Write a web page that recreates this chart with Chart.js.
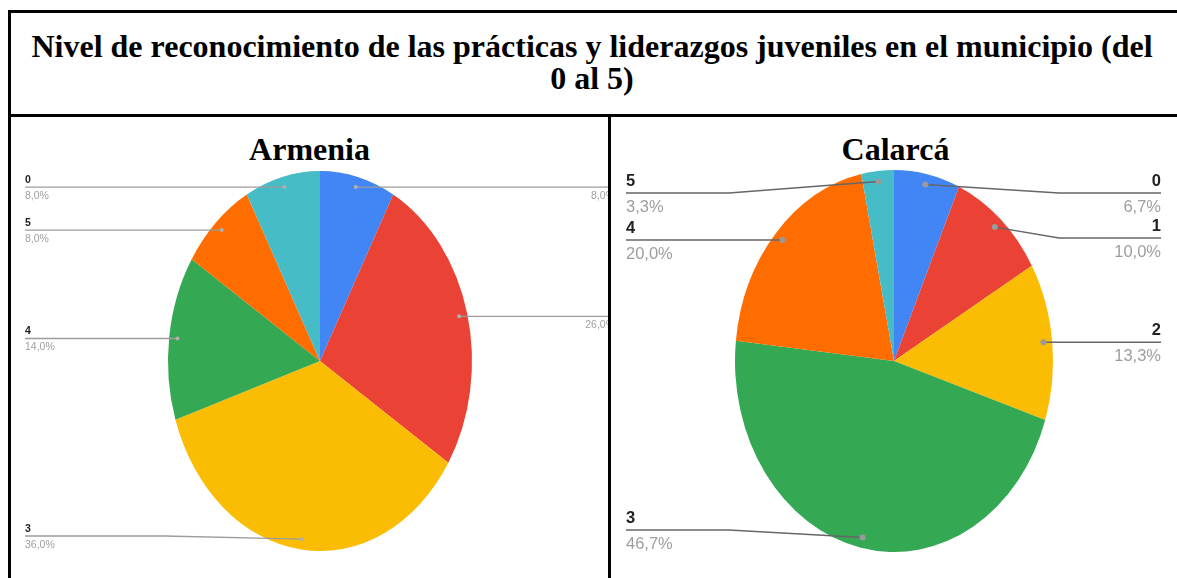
<!DOCTYPE html>
<html><head><meta charset="utf-8">
<script src="https://cdn.jsdelivr.net/npm/chart.js@4.4.1/dist/chart.umd.min.js"></script>
<style>
html,body{margin:0;padding:0;background:#fff;width:1177px;height:578px;overflow:hidden;position:relative;}
.rule{position:absolute;background:#000;}
.ttl{position:absolute;font-family:"Liberation Serif","Times New Roman",serif;font-weight:bold;font-size:32px;line-height:32px;text-align:center;color:#000;white-space:nowrap;}
.cell{position:absolute;overflow:hidden;}
.cell canvas{position:absolute;}
</style>
</head><body>
<div class="rule" style="left:8px;top:10px;width:1169px;height:3px"></div>
<div class="rule" style="left:8px;top:10px;width:3px;height:568px"></div>
<div class="rule" style="left:8px;top:114px;width:1169px;height:3px"></div>
<div class="rule" style="left:608px;top:114px;width:3px;height:464px"></div>
<div class="ttl" style="left:11px;width:1162px;top:30px">Nivel de reconocimiento de las prácticas y liderazgos juveniles en el municipio (del<br>0 al 5)</div>
<div class="ttl" style="left:11px;width:597px;top:133px">Armenia</div>
<div class="ttl" style="left:611px;width:569px;top:133px">Calarcá</div>
<div class="cell" style="left:11px;top:117px;width:597px;height:461px"><canvas id="cA" width="1177" height="578" style="left:-11px;top:-117px;width:1177px;height:578px"></canvas></div>
<div class="cell" style="left:611px;top:117px;width:566px;height:461px"><canvas id="cC" width="1177" height="578" style="left:-611px;top:-117px;width:1177px;height:578px"></canvas></div>
<script>
// ---- data ----
const armeniaLabels = ['1','2','3','4','5','0'];
const armeniaValues = [8.0, 26.0, 36.0, 14.0, 8.0, 8.0];
const calarcaLabels = ['0','1','2','3','4','5'];
const calarcaValues = [6.7, 10.0, 13.3, 46.7, 20.0, 3.3];
const sliceColors = ['#4285F4','#EA4335','#FBBC04','#34A853','#FF6D01','#46BDC6'];

const W = 1177, H = 578;

const ellipsePlugin = {
  id: 'ellipse',
  beforeDatasetsDraw(chart, args, o) {
    const a = chart.getDatasetMeta(0).data[0];
    const ctx = chart.ctx;
    ctx.save();
    ctx.translate(a.x, a.y); ctx.scale(o.sx, 1); ctx.translate(-a.x, -a.y);
  },
  afterDatasetsDraw(chart) { chart.ctx.restore(); }
};

const leaderPlugin = {
  id: 'leaders',
  afterDraw(chart, args, o) {
    const ctx = chart.ctx;
    const meta = chart.getDatasetMeta(0);
    const vals = chart.data.datasets[0].data;
    const labs = chart.data.labels;
    const sx = chart.options.plugins.ellipse.sx;
    const items = meta.data.map((arc, i) => {
      const p = arc.getProps(['x','y','startAngle','endAngle','outerRadius'], true);
      const mid = (p.startAngle + p.endAngle) / 2;
      return {
        i, cx: p.x, cy: p.y, r: p.outerRadius,
        ax: p.x + sx * o.f * p.outerRadius * Math.cos(mid),
        ay: p.y + o.f * p.outerRadius * Math.sin(mid),
        side: Math.cos(mid) >= 0 ? 1 : -1
      };
    });
    [1, -1].forEach(side => {
      const g = items.filter(t => t.side === side).sort((a, b) => a.ay - b.ay);
      if (!g.length) return;
      const top = g[0].cy - g[0].r, bot = g[0].cy + g[0].r;
      const minY = top + o.above, maxY = bot - o.below;
      g.forEach((t, k) => {
        t.ly = Math.min(Math.max(t.ay, minY), maxY);
        if (k > 0) t.ly = Math.max(t.ly, g[k-1].ly + o.spacing);
      });
      for (let k = g.length - 2; k >= 0; k--) {
        g[k].ly = Math.min(g[k].ly, g[k+1].ly - o.spacing);
      }
    });
    items.forEach(t => {
      const tx = t.side > 0 ? o.rightX : o.leftX;
      ctx.save();
      ctx.strokeStyle = o.lineColor; ctx.lineWidth = o.lineWidth;
      ctx.beginPath();
      ctx.moveTo(t.ax, t.ay);
      if (Math.abs(t.ly - t.ay) > 0.5) ctx.lineTo(t.cx + t.side * (sx * t.r + o.bend), t.ly);
      ctx.lineTo(tx, t.ly);
      ctx.stroke();
      ctx.fillStyle = o.dotColor;
      ctx.beginPath(); ctx.arc(t.ax, t.ay, o.dotR, 0, Math.PI * 2); ctx.fill();
      ctx.textAlign = t.side > 0 ? 'right' : 'left';
      ctx.textBaseline = 'alphabetic';
      ctx.fillStyle = o.nameColor; ctx.font = o.nameFont;
      ctx.fillText(labs[t.i], tx, t.ly - o.nameOff);
      ctx.fillStyle = o.pctColor; ctx.font = o.pctFont;
      ctx.fillText(vals[t.i].toFixed(1).replace('.', ',') + '%', tx, t.ly + o.pctOff);
      ctx.restore();
    });
  }
};

function makePie(id, labels, values, geo, lab) {
  const pad = { left: geo.cx - geo.r, top: geo.cy - geo.r, right: W - geo.cx - geo.r, bottom: H - geo.cy - geo.r };
  return new Chart(document.getElementById(id), {
    type: 'pie',
    data: { labels, datasets: [{ data: values, backgroundColor: sliceColors, borderWidth: 0, hoverOffset: 0, offset: 0 }] },
    options: {
      responsive: false, animation: false, devicePixelRatio: 1,
      layout: { padding: pad },
      events: [],
      plugins: { legend: { display: false }, tooltip: { enabled: false }, title: { display: false },
        ellipse: { sx: geo.sx }, leaders: lab }
    },
    plugins: [ellipsePlugin, leaderPlugin]
  });
}

makePie('cA', armeniaLabels, armeniaValues, { cx: 320, cy: 361, r: 190, sx: 0.8 }, {
  f: 0.945, above: 14, below: 15, spacing: 26, bend: 4, leftX: 25, rightX: 615,
  lineColor: '#9c9c9c', lineWidth: 1.4, dotColor: '#b0b0b0', dotR: 2,
  nameFont: 'bold 10.5px "Liberation Sans", Arial, sans-serif', nameColor: '#222',
  pctFont: '10.5px "Liberation Sans", Arial, sans-serif', pctColor: '#a0a0a0',
  nameOff: 4.5, pctOff: 12
});
makePie('cC', calarcaLabels, calarcaValues, { cx: 894, cy: 361, r: 191, sx: 0.8325 }, {
  f: 0.945, above: 23, below: 22, spacing: 45, bend: 6, leftX: 626, rightX: 1161,
  lineColor: '#666666', lineWidth: 1.4, dotColor: '#9a9a9a', dotR: 3,
  nameFont: 'bold 16.5px "Liberation Sans", Arial, sans-serif', nameColor: '#222',
  pctFont: '16.5px "Liberation Sans", Arial, sans-serif', pctColor: '#9e9e9e',
  nameOff: 7, pctOff: 19
});
</script>
</body></html>
